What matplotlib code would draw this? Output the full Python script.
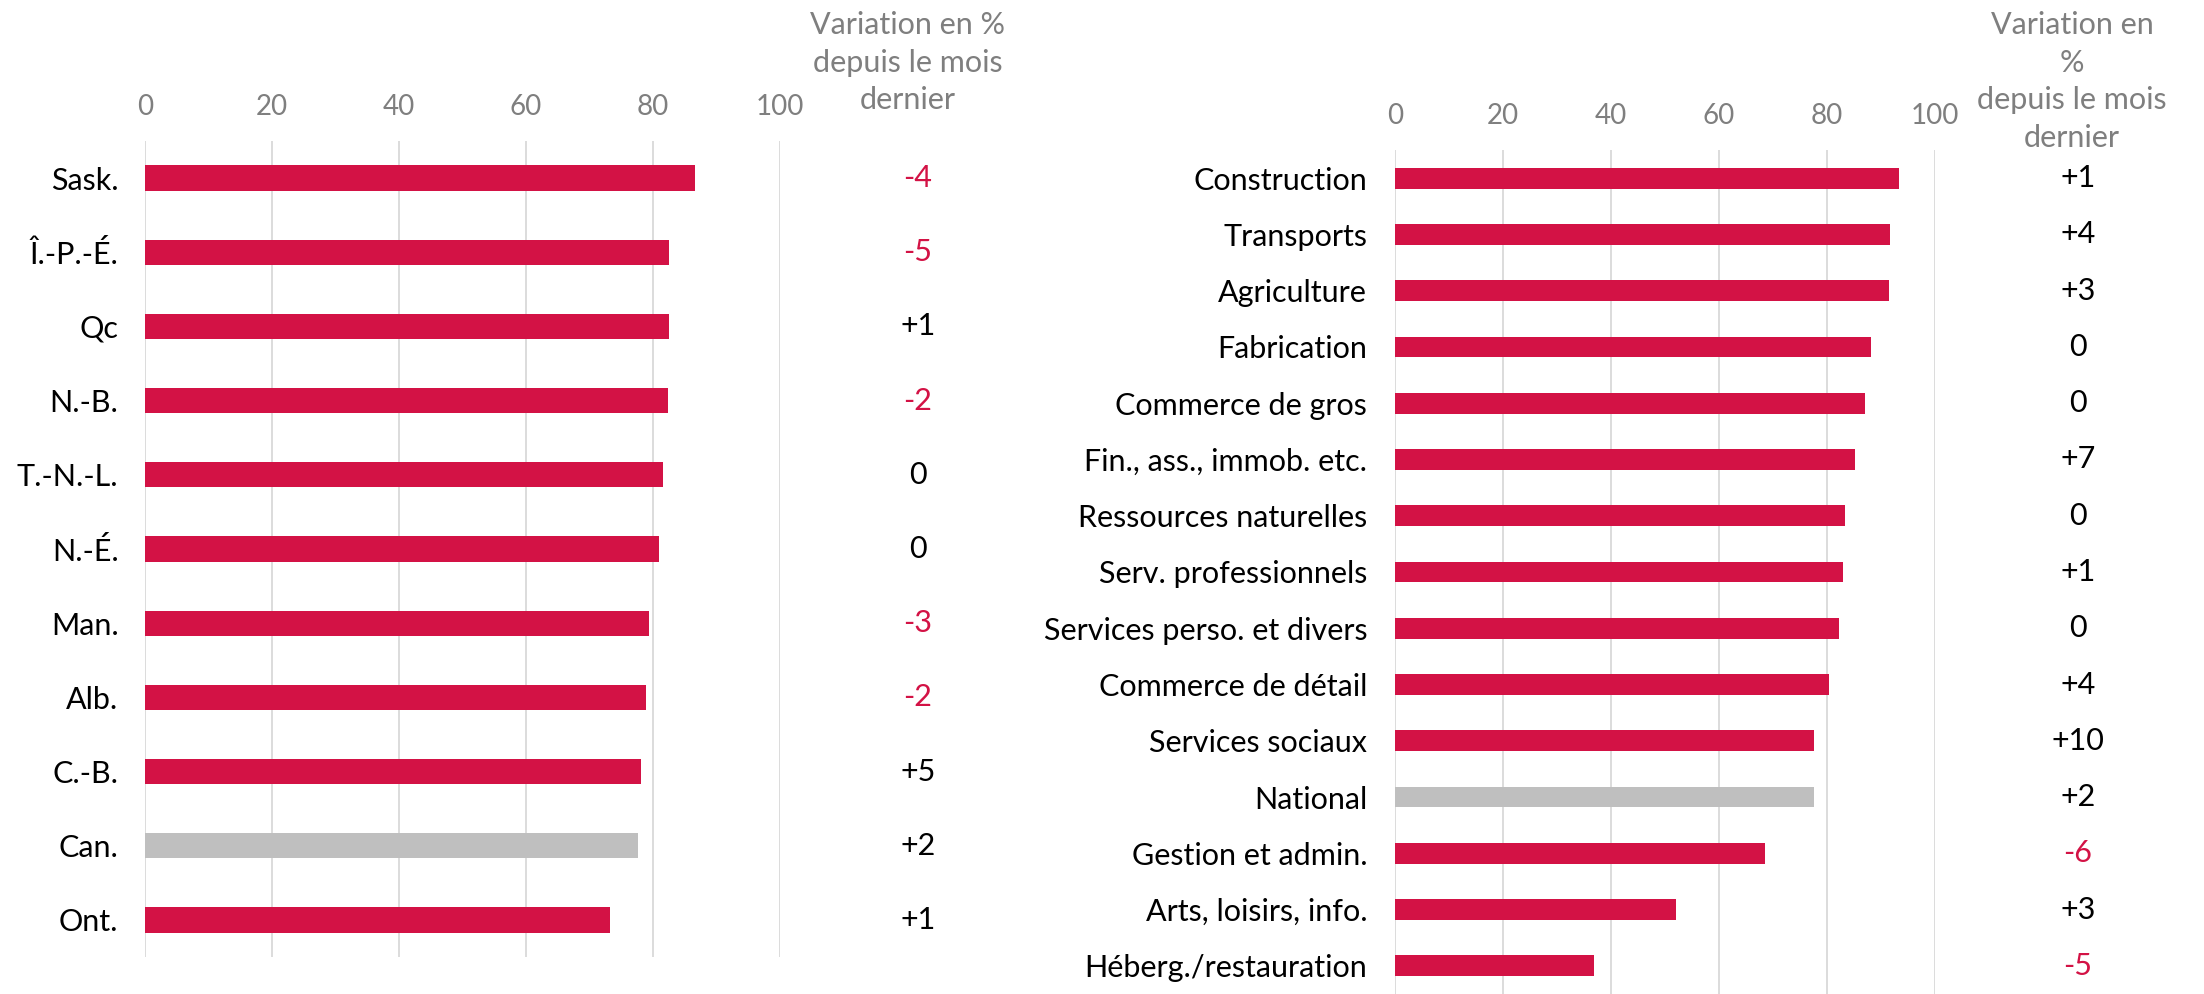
import matplotlib
matplotlib.use("Agg")
import matplotlib.pyplot as plt
import matplotlib.transforms as mtransforms

plt.rcParams['font.family'] = ['Lato', 'DejaVu Sans']

# données - provinces
prov = ['Sask.', 'Î.-P.-É.', 'Qc', 'N.-B.', 'T.-N.-L.', 'N.-É.', 'Man.', 'Alb.', 'C.-B.', 'Can.', 'Ont.']
prov_val = [86.6, 82.5, 82.5, 82.3, 81.5, 81.0, 79.4, 78.9, 78.1, 77.6, 73.2]
prov_chg = ['-4', '-5', '+1', '-2', '0', '0', '-3', '-2', '+5', '+2', '+1']

# données - secteurs
sect = ['Construction', 'Transports', 'Agriculture', 'Fabrication', 'Commerce de gros',
        'Fin., ass., immob. etc.', 'Ressources naturelles', 'Serv. professionnels',
        'Services perso. et divers', 'Commerce de détail', 'Services sociaux', 'National',
        'Gestion et admin.', 'Arts, loisirs, info.', 'Héberg./restauration']
sect_val = [93.4, 91.6, 91.4, 88.1, 87.1, 85.2, 83.4, 82.9, 82.2, 80.4, 77.6, 77.6, 68.6, 52.1, 36.9]
sect_chg = ['+1', '+4', '+3', '0', '0', '+7', '0', '+1', '0', '+4', '+10', '+2', '-6', '+3', '-5']

xticks = [0, 20, 40, 60, 80, 100]

RED = '#D31245'
GREY_BAR = '#BFBFBF'
GRID = '#D9D9D9'
GREY_TXT = '#7F7F7F'

W, H = 2204, 994
fig = plt.figure(figsize=(W / 100, H / 100), dpi=100)


def panel(rect, cats, vals, chg, highlight, bar_h, val_x, head_x, header, lab_pad, tick_pad):
    ax = fig.add_axes(rect)
    n = len(cats)
    ypos = list(range(n))
    colors = [GREY_BAR if c == highlight else RED for c in cats]
    ax.barh(ypos, vals, height=bar_h, color=colors, zorder=3)
    ax.set_xlim(0, 100)
    ax.set_ylim(n - 0.5, -0.5)
    ax.set_xticks(xticks)
    ax.xaxis.tick_top()
    ax.tick_params(axis='x', length=0, pad=tick_pad, labelsize=20, labelcolor=GREY_TXT)
    ax.set_yticks(ypos)
    ax.set_yticklabels(cats)
    ax.tick_params(axis='y', length=0, pad=lab_pad, labelsize=22)
    ax.grid(axis='x', color=GRID, linewidth=1.3, zorder=0)
    ax.grid(axis='y', visible=False)
    for s in ax.spines.values():
        s.set_visible(False)
    # colonne des variations
    tr = mtransforms.blended_transform_factory(fig.transFigure, ax.transData)
    for i, c in enumerate(chg):
        ax.text(val_x / W, i, c, transform=tr, ha='center', va='center', fontsize=22,
                color=RED if c.startswith('-') else 'black', clip_on=False)
    fig.text(head_x / W, 1 - 11 / H, header, ha='center', va='top', fontsize=22,
             color=GREY_TXT, linespacing=1.42)
    return ax


panel([145 / W, 37 / H, 635 / W, 816 / H], prov, prov_val, prov_chg, 'Can.', 0.34,
      918, 908, 'Variation en %\ndepuis le mois\ndernier', 19, 15)
panel([1395 / W, 0, 540 / W, 844 / H], sect, sect_val, sect_chg, 'National', 0.37,
      2078, 2072, 'Variation en\n%\ndepuis le mois\ndernier', 20, 15)

fig.savefig('out.png', dpi=100)
